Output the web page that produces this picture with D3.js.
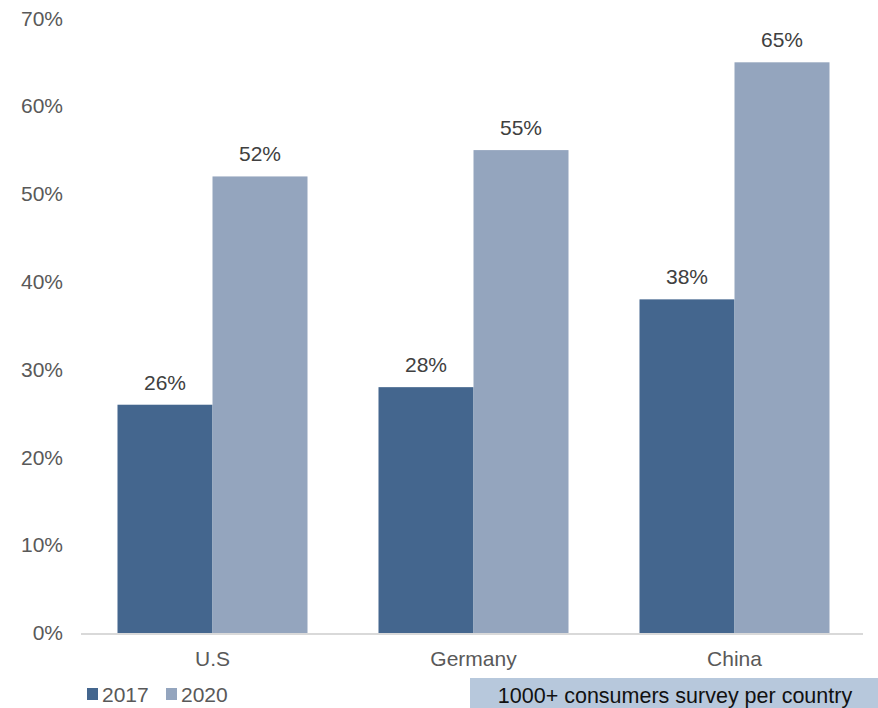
<!DOCTYPE html>
<html>
<head>
<meta charset="utf-8">
<script src="https://cdn.jsdelivr.net/npm/d3@7/dist/d3.min.js"></script>
<style>
  html, body { margin: 0; padding: 0; background: #fff; }
  svg { display: block; font-family: "Liberation Sans", Arial, sans-serif; }
</style>
</head>
<body>
<svg id="chart" width="878" height="708"></svg>
<script>
// Share of consumers, by country and survey year
const countries = ["U.S", "Germany", "China"];
const years = ["2017", "2020"];
const values2017 = [26, 28, 38];
const values2020 = [52, 55, 65];
const yTicks = [0, 10, 20, 30, 40, 50, 60, 70];
const noteText = "1000+ consumers survey per country";

const colors = { "2017": "#44668e", "2020": "#94a5be" };
const series = { "2017": values2017, "2020": values2020 };
const fontSize = "21px";

const svg = d3.select("#chart");
const plotLeft = 82, plotRight = 865, plotTop = 18.4, plotBottom = 633;

const x0 = d3.scaleBand().domain(countries).range([plotLeft, plotRight])
  .paddingInner(0.272).paddingOuter(0.136);
const x1 = d3.scaleBand().domain(years).range([0, x0.bandwidth()]);
const y = d3.scaleLinear().domain([0, 70]).range([plotBottom, plotTop]);

// y tick labels (no axis line, no gridlines)
const yAxis = d3.axisLeft(y).tickValues(yTicks).tickFormat(d => d + "%").tickSize(0).tickPadding(0);
const gy = svg.append("g").attr("transform", `translate(63,0)`).call(yAxis);
gy.select(".domain").remove();
gy.selectAll("text").attr("fill", "#595959").style("font-size", fontSize)
  .style("font-family", "'Liberation Sans', Arial, sans-serif");

// bars
const groups = svg.append("g").selectAll("g").data(countries).join("g")
  .attr("transform", d => `translate(${x0(d)},0)`);

groups.selectAll("rect")
  .data((c, i) => years.map(yr => ({ yr, v: series[yr][i] })))
  .join("rect")
  .attr("x", d => x1(d.yr))
  .attr("y", d => y(d.v))
  .attr("width", x1.bandwidth())
  .attr("height", d => y(0) - y(d.v))
  .attr("fill", d => colors[d.yr]);

// value labels
groups.selectAll("text.val")
  .data((c, i) => years.map(yr => ({ yr, v: series[yr][i] })))
  .join("text")
  .attr("class", "val")
  .attr("x", d => x1(d.yr) + x1.bandwidth() / 2)
  .attr("y", d => y(d.v) - 15)
  .attr("text-anchor", "middle")
  .attr("fill", "#404040")
  .style("font-size", fontSize)
  .text(d => d.v + "%");

// baseline
svg.append("line")
  .attr("x1", plotLeft - 1).attr("x2", plotRight - 2)
  .attr("y1", plotBottom + 1).attr("y2", plotBottom + 1)
  .attr("stroke", "#d9d9d9").attr("stroke-width", 2);

// category axis labels
const xAxis = d3.axisBottom(x0).tickSize(0).tickPadding(0);
const gx = svg.append("g").attr("transform", `translate(0,${plotBottom + 33})`).call(xAxis);
gx.select(".domain").remove();
gx.selectAll("text").attr("fill", "#595959").attr("dy", 0).style("font-size", fontSize)
  .style("font-family", "'Liberation Sans', Arial, sans-serif");

// legend
const legend = svg.append("g").attr("transform", "translate(87,688)");
const legendX = [0, 79];
years.forEach((yr, i) => {
  const g = legend.append("g").attr("transform", `translate(${legendX[i]},0)`);
  g.append("rect").attr("width", 11).attr("height", 12).attr("fill", colors[yr]);
  g.append("text").attr("x", 15).attr("y", 14).attr("fill", "#595959")
    .style("font-size", fontSize).text(yr);
});

// note box
svg.append("rect").attr("x", 470).attr("y", 678).attr("width", 408).attr("height", 30)
  .attr("fill", "#b7c8dc");
svg.append("text").attr("x", 675).attr("y", 703).attr("text-anchor", "middle")
  .attr("fill", "#111").style("font-size", "21.5px").text(noteText);
</script>
</body>
</html>
